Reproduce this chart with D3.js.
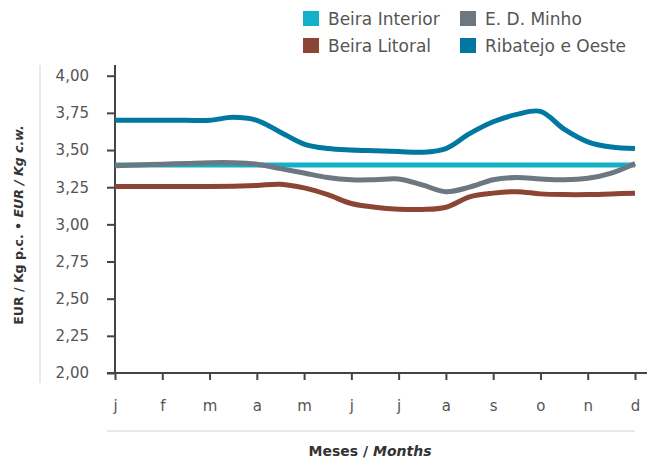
<!DOCTYPE html>
<html>
<head>
<meta charset="utf-8">
<script src="https://cdn.jsdelivr.net/npm/d3@7"></script>
<style>
  html, body { margin: 0; padding: 0; background: #fff; }
  svg { display: block; font-family: "DejaVu Sans", sans-serif; }
</style>
</head>
<body>
<svg id="chart" width="657" height="462"></svg>
<script>
// ---- Data ----
const months = ["j", "f", "m", "a", "m", "j", "j", "a", "s", "o", "n", "d"];
// half-month sampling positions (0 = January ... 11 = December)
const periods = [0, 0.5, 1, 1.5, 2, 2.5, 3, 3.5, 4, 4.5, 5, 5.5, 6, 6.5, 7, 7.5, 8, 8.5, 9, 9.5, 10, 10.5, 11];
const yTicks = [2.00, 2.25, 2.50, 2.75, 3.00, 3.25, 3.50, 3.75, 4.00];

const seriesNames = ["Beira Interior", "Beira Litoral", "E. D. Minho", "Ribatejo e Oeste"];
const beiraInterior = [3.40, 3.40, 3.40, 3.40, 3.40, 3.40, 3.40, 3.40, 3.40, 3.40, 3.40, 3.40, 3.40, 3.40, 3.40, 3.40, 3.40, 3.40, 3.40, 3.40, 3.40, 3.40, 3.40];
const beiraLitoral = [3.255, 3.255, 3.255, 3.255, 3.255, 3.257, 3.262, 3.270, 3.245, 3.200, 3.140, 3.115, 3.102, 3.100, 3.115, 3.185, 3.210, 3.220, 3.205, 3.200, 3.200, 3.205, 3.210];
const edMinho = [3.395, 3.400, 3.405, 3.410, 3.415, 3.415, 3.405, 3.375, 3.345, 3.315, 3.300, 3.300, 3.305, 3.265, 3.220, 3.250, 3.300, 3.315, 3.305, 3.300, 3.310, 3.345, 3.410];
const ribatejo = [3.700, 3.700, 3.700, 3.700, 3.700, 3.720, 3.700, 3.620, 3.540, 3.510, 3.500, 3.495, 3.490, 3.485, 3.510, 3.610, 3.690, 3.740, 3.760, 3.640, 3.555, 3.520, 3.510];
const colors = ["#12B1C8", "#8C4534", "#6B7881", "#00789F"];

// ---- Chart ----
const svg = d3.select("#chart");
const x = d3.scaleLinear().domain([0, 11]).range([115, 635]);
const y = d3.scaleLinear().domain([2, 4]).range([373, 75.7]);
const textCol = "#555";

// light separators
svg.append("line").attr("x1", 40).attr("x2", 40).attr("y1", 65).attr("y2", 383)
  .attr("stroke", "#e2e2e2").attr("stroke-width", 1.5);
svg.append("line").attr("x1", 107).attr("x2", 635).attr("y1", 431).attr("y2", 431)
  .attr("stroke", "#e2e2e2").attr("stroke-width", 1.5);

// Y axis
const yAxis = svg.append("g").attr("transform", "translate(115,0)")
  .call(d3.axisLeft(y).tickValues(yTicks).tickSize(8).tickPadding(18)
    .tickFormat(d => d3.format(".2f")(d).replace(".", ",")));
yAxis.select(".domain").remove();
yAxis.selectAll(".tick line").attr("stroke", "#444").attr("stroke-width", 2);
yAxis.selectAll(".tick text").attr("fill", textCol).style("font-size", "15px")
  .style("font-family", "DejaVu Sans");
svg.append("line").attr("x1", 115).attr("x2", 115).attr("y1", 65).attr("y2", 374)
  .attr("stroke", "#444").attr("stroke-width", 2);

// X axis
const xAxis = svg.append("g").attr("transform", "translate(0,373)")
  .call(d3.axisBottom(x).tickValues(d3.range(12)).tickSize(7).tickPadding(20)
    .tickFormat(i => months[i]));
xAxis.select(".domain").remove();
xAxis.selectAll(".tick line").attr("stroke", "#444").attr("stroke-width", 2);
xAxis.selectAll(".tick text").attr("fill", textCol).style("font-size", "15px")
  .style("font-family", "DejaVu Sans");
svg.append("line").attr("x1", 107).attr("x2", 647).attr("y1", 373).attr("y2", 373)
  .attr("stroke", "#444").attr("stroke-width", 2);

// Lines
const line = d3.line().x((d, i) => x(periods[i])).y(d => y(d)).curve(d3.curveCatmullRom.alpha(0.5));
const allSeries = [beiraInterior, beiraLitoral, edMinho, ribatejo];
const drawOrder = [1, 0, 2, 3];
drawOrder.forEach(k => {
  svg.append("path").datum(allSeries[k]).attr("d", line)
    .attr("fill", "none").attr("stroke", colors[k]).attr("stroke-width", 5)
    .attr("stroke-linecap", "butt").attr("stroke-linejoin", "round");
});

// Legend
const legPos = [[303, 11], [303, 38], [460, 11], [460, 38]];
seriesNames.forEach((name, k) => {
  const [lx, ly] = legPos[k];
  svg.append("rect").attr("x", lx).attr("y", ly).attr("width", 16).attr("height", 15).attr("fill", colors[k]);
  svg.append("text").attr("x", lx + 25).attr("y", ly + 14).text(name)
    .attr("fill", textCol).style("font-size", "17px");
});

// Y title
const yt = svg.append("text").attr("transform", "translate(23,225) rotate(-90)")
  .attr("text-anchor", "middle").attr("fill", "#333")
  .style("font-size", "12.5px").style("font-weight", "bold");
yt.append("tspan").text("EUR / Kg p.c. • ");
yt.append("tspan").text("EUR / Kg c.w.").style("font-style", "italic");

// X title
const xt = svg.append("text").attr("x", 370).attr("y", 456)
  .attr("text-anchor", "middle").attr("fill", "#333")
  .style("font-size", "14px").style("font-weight", "bold");
xt.append("tspan").text("Meses / ");
xt.append("tspan").text("Months").style("font-style", "italic");
</script>
</body>
</html>
